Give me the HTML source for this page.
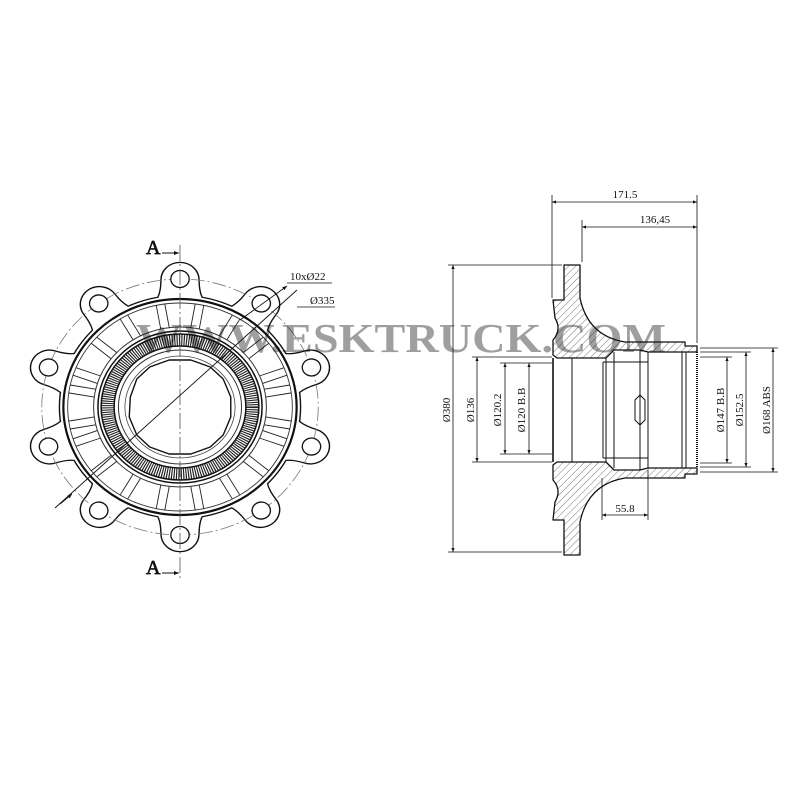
<!DOCTYPE html>
<html><head><meta charset="utf-8"><style>
html,body{margin:0;padding:0;background:#fff;}
svg{display:block;}
text{font-family:"Liberation Serif",serif;fill:#111;}
</style></head><body>
<svg width="800" height="800" viewBox="0 0 800 800" xmlns="http://www.w3.org/2000/svg">
<defs>
<pattern id="h" width="5" height="5" patternUnits="userSpaceOnUse" patternTransform="rotate(45)">
<rect width="5" height="5" fill="#fff"/><line x1="0" y1="0" x2="0" y2="5" stroke="#555" stroke-width="0.8"/>
</pattern>
<marker id="ar" viewBox="0 0 10 10" refX="10" refY="5" markerWidth="7" markerHeight="5" orient="auto-start-reverse"><path d="M0,1 L10,5 L0,9z" fill="#111"/></marker>
<g id="rib"><line x1="-4" y1="-80" x2="-4" y2="-104" stroke="#222" stroke-width="0.9" vector-effect="non-scaling-stroke"/><line x1="4" y1="-80" x2="4" y2="-104" stroke="#222" stroke-width="0.9" vector-effect="non-scaling-stroke"/></g>
<path id="lobeS" d="M-28,-100 Q-17,-106 -17,-127 A17,17 0 0 1 17,-127 Q17,-106 28,-100 Z"/>
<g id="hole"><circle cx="0" cy="-128" r="8.5" fill="#fff" stroke="#111" stroke-width="1.3" vector-effect="non-scaling-stroke"/></g>
</defs>

<!-- LEFT VIEW -->
<g transform="translate(180,407) scale(1.08,1)">
 <g fill="#111" stroke="#111" stroke-width="2.6">
  <circle r="111"/>
  <use href="#lobeS"/><use href="#lobeS" transform="rotate(36)"/><use href="#lobeS" transform="rotate(72)"/><use href="#lobeS" transform="rotate(108)"/><use href="#lobeS" transform="rotate(144)"/><use href="#lobeS" transform="rotate(180)"/><use href="#lobeS" transform="rotate(216)"/><use href="#lobeS" transform="rotate(252)"/><use href="#lobeS" transform="rotate(288)"/><use href="#lobeS" transform="rotate(324)"/>
 </g>
 <g fill="#fff" stroke="none">
  <circle r="111"/>
  <use href="#lobeS"/><use href="#lobeS" transform="rotate(36)"/><use href="#lobeS" transform="rotate(72)"/><use href="#lobeS" transform="rotate(108)"/><use href="#lobeS" transform="rotate(144)"/><use href="#lobeS" transform="rotate(180)"/><use href="#lobeS" transform="rotate(216)"/><use href="#lobeS" transform="rotate(252)"/><use href="#lobeS" transform="rotate(288)"/><use href="#lobeS" transform="rotate(324)"/>
 </g>
 <circle r="128" fill="none" stroke="#777" stroke-width="0.8" stroke-dasharray="14 3 2 3" vector-effect="non-scaling-stroke"/>
 <use href="#hole"/><use href="#hole" transform="rotate(36)"/><use href="#hole" transform="rotate(72)"/><use href="#hole" transform="rotate(108)"/><use href="#hole" transform="rotate(144)"/><use href="#hole" transform="rotate(180)"/><use href="#hole" transform="rotate(216)"/><use href="#hole" transform="rotate(252)"/><use href="#hole" transform="rotate(288)"/><use href="#hole" transform="rotate(324)"/>
 <circle r="108" fill="none" stroke="#111" stroke-width="2.2" vector-effect="non-scaling-stroke"/>
 <circle r="104" fill="none" stroke="#333" stroke-width="0.9" vector-effect="non-scaling-stroke"/>
 <g>
  <use href="#rib" transform="rotate(10)"/><use href="#rib" transform="rotate(30)"/><use href="#rib" transform="rotate(50)"/><use href="#rib" transform="rotate(70)"/><use href="#rib" transform="rotate(110)"/><use href="#rib" transform="rotate(130)"/><use href="#rib" transform="rotate(150)"/><use href="#rib" transform="rotate(170)"/><use href="#rib" transform="rotate(190)"/><use href="#rib" transform="rotate(210)"/><use href="#rib" transform="rotate(230)"/><use href="#rib" transform="rotate(250)"/><use href="#rib" transform="rotate(290)"/><use href="#rib" transform="rotate(310)"/><use href="#rib" transform="rotate(330)"/><use href="#rib" transform="rotate(350)"/><use href="#rib" transform="rotate(80)"/><use href="#rib" transform="rotate(100)"/><use href="#rib" transform="rotate(260)"/><use href="#rib" transform="rotate(280)"/>
 </g>
 <circle r="80" fill="none" stroke="#333" stroke-width="1" vector-effect="non-scaling-stroke"/>
 <circle r="76" fill="#fff" stroke="#111" stroke-width="1.5" vector-effect="non-scaling-stroke"/>
 <circle r="67" fill="none" stroke="#222" stroke-width="12" stroke-dasharray="1.1 1.1"/>
 <circle r="73" fill="none" stroke="#111" stroke-width="1.5" vector-effect="non-scaling-stroke"/>
 <circle r="61" fill="none" stroke="#111" stroke-width="1.5" vector-effect="non-scaling-stroke"/>
 <circle r="57" fill="#fff" stroke="#333" stroke-width="1" vector-effect="non-scaling-stroke"/>
 <path d="M-46,-10 L-40,-28 L-28,-40 L-10,-47 L10,-47 L28,-40 L40,-28 L47,-10 L47,10 L40,28 L28,40 L10,47 L-10,47 L-28,40 L-40,28 L-47,10 Z" fill="#fff" stroke="#111" stroke-width="1.4" vector-effect="non-scaling-stroke" stroke-linejoin="round"/>
 <circle r="51" fill="none" stroke="#444" stroke-width="0.8" vector-effect="non-scaling-stroke"/>
</g>
<line x1="180" y1="245" x2="180" y2="578" stroke="#555" stroke-width="0.8" stroke-dasharray="16 3 2 3"/>
<line x1="55" y1="508" x2="297" y2="290" stroke="#111" stroke-width="0.9"/>
<line x1="240" y1="320" x2="287" y2="286" stroke="#111" stroke-width="0.9" marker-end="url(#ar)"/>
<line x1="287" y1="283" x2="332" y2="283" stroke="#111" stroke-width="0.8"/>
<line x1="297" y1="307" x2="335" y2="307" stroke="#111" stroke-width="0.8"/>
<line x1="60" y1="504" x2="72" y2="494" stroke="#111" stroke-width="0.9" marker-end="url(#ar)"/>
<text x="290" y="280" font-size="11">10xØ22</text>
<text x="310" y="304" font-size="11">Ø335</text>
<text x="146" y="254" font-size="20" fill="#fff" stroke="#111" stroke-width="0.7">A</text>
<line x1="162" y1="253" x2="179" y2="253" stroke="#111" stroke-width="1" marker-end="url(#ar)"/>
<text x="146" y="574" font-size="20" fill="#fff" stroke="#111" stroke-width="0.7">A</text>
<line x1="162" y1="573" x2="179" y2="573" stroke="#111" stroke-width="1" marker-end="url(#ar)"/>

<!-- RIGHT VIEW -->
<g stroke="#111" stroke-width="1.3" stroke-linejoin="round">
 <path d="M564,265 L580,265 L580,298 Q588,336 625,342 L685,342 L685,346 L697,346 L697,352 L648,352 L640,350 L614,350 L606,358 L557,358 L553,355 L553,340 Q562,330 555,318 L553,300 L564,300 Z" fill="url(#h)"/>
 <path d="M564,555 L580,555 L580,522 Q588,484 625,478 L685,478 L685,474 L697,474 L697,468 L648,468 L640,470 L614,470 L606,462 L557,462 L553,465 L553,480 Q562,490 555,502 L553,520 L564,520 Z" fill="url(#h)"/>
</g>
<g fill="none" stroke="#111" stroke-width="1">
 <line x1="553" y1="358" x2="553" y2="462" stroke-width="1.6"/>
 <line x1="572" y1="358" x2="572" y2="462"/>
 <line x1="603" y1="362" x2="603" y2="458"/>
 <line x1="606" y1="358" x2="606" y2="462"/>
 <line x1="614" y1="352" x2="614" y2="468"/>
 <line x1="640" y1="350" x2="640" y2="470"/>
 <line x1="648" y1="352" x2="648" y2="468"/>
 <line x1="682" y1="352" x2="682" y2="468"/>
 <line x1="686" y1="352" x2="686" y2="468"/>
 <line x1="697" y1="352" x2="697" y2="468" stroke-width="2" stroke-dasharray="1 1"/>
 <line x1="603" y1="362" x2="648" y2="362"/>
 <line x1="603" y1="458" x2="648" y2="458"/>
 <path d="M640,395 L645,400 L645,420 L640,425 L635,420 L635,400 Z"/>
 <line x1="564" y1="265" x2="564" y2="300"/>
 <line x1="564" y1="520" x2="564" y2="555"/>
</g>
<g stroke="#111" stroke-width="0.8" fill="none">
 <line x1="552" y1="195" x2="552" y2="298"/>
 <line x1="582" y1="220" x2="582" y2="262"/>
 <line x1="697" y1="195" x2="697" y2="343"/>
 <line x1="552" y1="202" x2="697" y2="202" marker-start="url(#ar)" marker-end="url(#ar)"/>
 <line x1="582" y1="227" x2="697" y2="227" marker-start="url(#ar)" marker-end="url(#ar)"/>
 <line x1="448" y1="265" x2="562" y2="265"/>
 <line x1="448" y1="552" x2="562" y2="552"/>
 <line x1="453" y1="265" x2="453" y2="552" marker-start="url(#ar)" marker-end="url(#ar)"/>
 <line x1="472" y1="357" x2="552" y2="357"/>
 <line x1="472" y1="462" x2="552" y2="462"/>
 <line x1="477" y1="357" x2="477" y2="462" marker-start="url(#ar)" marker-end="url(#ar)"/>
 <line x1="500" y1="363" x2="552" y2="363"/>
 <line x1="500" y1="454" x2="552" y2="454"/>
 <line x1="505" y1="363" x2="505" y2="454" marker-start="url(#ar)" marker-end="url(#ar)"/>
 <line x1="529" y1="363" x2="529" y2="454" marker-start="url(#ar)" marker-end="url(#ar)"/>
 <line x1="700" y1="348" x2="778" y2="348"/>
 <line x1="700" y1="472" x2="778" y2="472"/>
 <line x1="700" y1="352" x2="751" y2="352"/>
 <line x1="700" y1="467" x2="751" y2="467"/>
 <line x1="700" y1="357" x2="732" y2="357"/>
 <line x1="700" y1="463" x2="732" y2="463"/>
 <line x1="727" y1="357" x2="727" y2="463" marker-start="url(#ar)" marker-end="url(#ar)"/>
 <line x1="746" y1="352" x2="746" y2="467" marker-start="url(#ar)" marker-end="url(#ar)"/>
 <line x1="773" y1="348" x2="773" y2="472" marker-start="url(#ar)" marker-end="url(#ar)"/>
 <line x1="602" y1="478" x2="602" y2="520"/>
 <line x1="648" y1="470" x2="648" y2="520"/>
 <line x1="602" y1="515" x2="648" y2="515" marker-start="url(#ar)" marker-end="url(#ar)"/>
</g>
<g font-size="11">
 <text x="625" y="198" text-anchor="middle">171.5</text>
 <text x="655" y="223" text-anchor="middle">136,45</text>
 <text x="625" y="512" text-anchor="middle">55.8</text>
 <text transform="translate(450,410) rotate(-90)" text-anchor="middle">Ø380</text>
 <text transform="translate(474,410) rotate(-90)" text-anchor="middle">Ø136</text>
 <text transform="translate(501,410) rotate(-90)" text-anchor="middle">Ø120.2</text>
 <text transform="translate(525,410) rotate(-90)" text-anchor="middle">Ø120 B.B</text>
 <text transform="translate(724,410) rotate(-90)" text-anchor="middle">Ø147 B.B</text>
 <text transform="translate(743,410) rotate(-90)" text-anchor="middle">Ø152.5</text>
 <text transform="translate(770,410) rotate(-90)" text-anchor="middle">Ø168 ABS</text>
</g>
<text x="136" y="352" font-size="41" font-weight="bold" fill="#999" opacity="0.4" textLength="530" lengthAdjust="spacingAndGlyphs">WWW.ESKTRUCK.COM</text>
</svg>
</body></html>
